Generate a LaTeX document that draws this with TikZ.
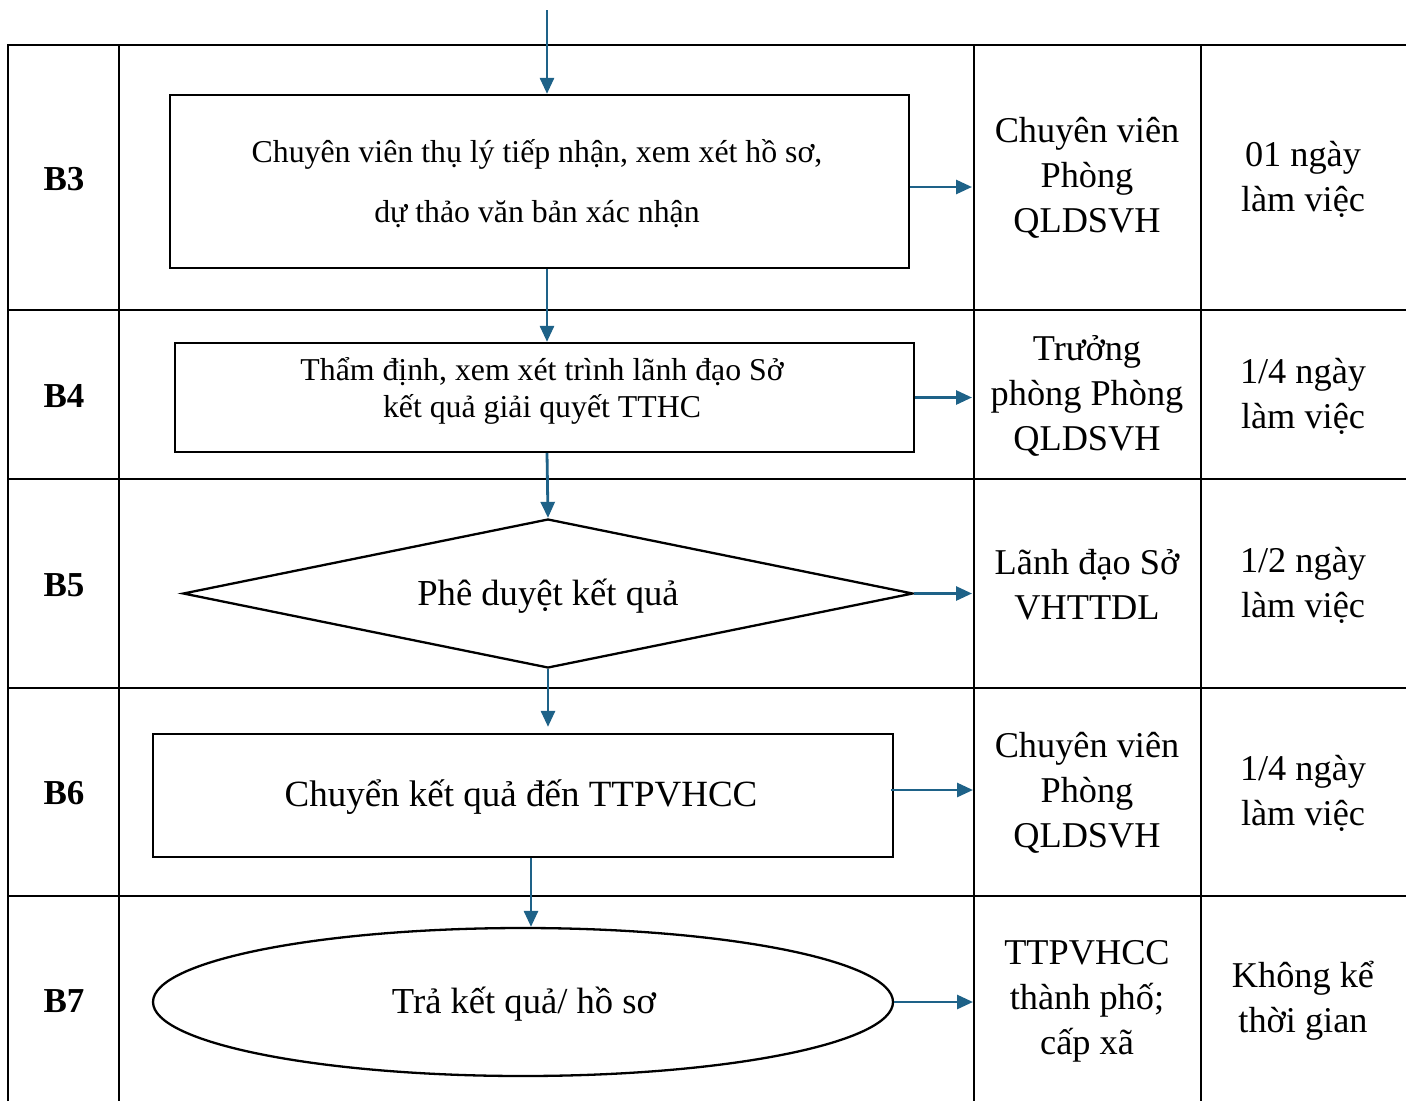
\documentclass[tikz,border=0pt]{standalone}
\usepackage{fontspec}
\setmainfont{Liberation Serif}
\usetikzlibrary{arrows.meta,shapes.geometric}
\definecolor{arr}{RGB}{30,98,136}
\begin{document}
\begin{tikzpicture}[x=1pt,y=-1pt,
  grid/.style={line width=2.8pt,black},
  shapebox/.style={draw,line width=2.3pt,inner sep=0pt},
  flow/.style={draw=arr,line width=2.8pt,-{Triangle[length=16pt,width=14pt]}},
  cell/.style={align=center,font=\fontsize{36.3}{45}\selectfont,inner sep=0pt},
  boxtext/.style={align=center,inner sep=0pt},
  steplabel/.style={inner sep=0pt,font=\fontsize{35}{40}\selectfont\bfseries}
]
\useasboundingbox (0,0) rectangle (1406,1101);
% table grid
\draw[grid] (8,1101) -- (8,45) -- (1406,45);
\foreach \yy in {310,479,688,896} \draw[grid] (8,\yy) -- (1406,\yy);
\foreach \xx in {119,974,1201} \draw[grid] (\xx,45) -- (\xx,1101);
% step labels
\node[steplabel] (s3) at (64,179) {B3};
\node[steplabel] (s4) at (64,396) {B4};
\node[steplabel] (s5) at (64,585) {B5};
\node[steplabel] (s6) at (64,793) {B6};
\node[steplabel] (s7) at (64,1001) {B7};
% shapes
\node[shapebox,minimum width=739pt,minimum height=173pt] (b3) at (539.5,181.5) {};
\node[boxtext,font=\fontsize{31.8}{60}\selectfont] (t3) at (537,184) {Chuyên viên thụ lý tiếp nhận, xem xét hồ sơ,\\dự thảo văn bản xác nhận};
\node[shapebox,minimum width=739pt,minimum height=109pt] (b4) at (544.5,397.5) {};
\node[boxtext,font=\fontsize{31.8}{37}\selectfont] (t4) at (542,391) {Thẩm định, xem xét trình lãnh đạo Sở\\kết quả giải quyết TTHC};
\node[shapebox,diamond,minimum width=730pt,minimum height=149pt] (b5) at (548,593.5) {};
\node[boxtext,font=\fontsize{36.6}{40}\selectfont] (t5) at (548,596) {Phê duyệt kết quả};
\node[shapebox,minimum width=740pt,minimum height=123pt] (b6) at (523,795.5) {};
\node[boxtext,font=\fontsize{37}{40}\selectfont] (t6) at (521,797) {Chuyển kết quả đến TTPVHCC};
\node[shapebox,ellipse,minimum width=740pt,minimum height=148pt] (b7) at (523,1002) {};
\node[boxtext,font=\fontsize{36.6}{40}\selectfont] (t7) at (524,1004) {Trả kết quả/ hồ sơ};
% column texts
\node[cell] (r3a) at (1087,178) {Chuyên viên\\Phòng\\QLDSVH};
\node[cell] (r3b) at (1303,179) {01 ngày\\làm việc};
\node[cell] (r4a) at (1087,396) {Trưởng\\phòng Phòng\\QLDSVH};
\node[cell] (r4b) at (1303,396) {1/4 ngày\\làm việc};
\node[cell] (r5a) at (1087,585) {Lãnh đạo Sở\\VHTTDL};
\node[cell] (r5b) at (1303,585) {1/2 ngày\\làm việc};
\node[cell] (r6a) at (1087,793) {Chuyên viên\\Phòng\\QLDSVH};
\node[cell] (r6b) at (1303,793) {1/4 ngày\\làm việc};
\node[cell] (r7a) at (1087,1001) {TTPVHCC\\thành phố;\\cấp xã};
\node[cell] (r7b) at (1303,1001) {Không kể\\thời gian};
% vertical flow
\coordinate (top) at (547,10);
\draw[flow] (top) -- (top |- b3.north);
\draw[flow] (b3.south -| top) -- (b4.north -| top);
\draw[flow] (b4.south -| top) -- (b5.north);
\draw[flow] (b5.south) -- ([yshift=6pt]b6.north -| b5.south);
\draw[flow] ([xshift=8pt]b6.south) -- ([xshift=8pt]b7.north);
% horizontal flow
\coordinate (c3) at (972,187);
\coordinate (c4) at (972,397.5);
\coordinate (c5) at (972,593.5);
\coordinate (c6) at (973,790);
\coordinate (c7) at (973,1002);
\draw[flow] (b3.east |- c3) -- (c3);
\draw[flow] (b4.east) -- (c4);
\draw[flow] (b5.east) -- (c5);
\draw[flow] ([xshift=-3pt]b6.east |- c6) -- (c6);
\draw[flow] (b7.east) -- (c7);
\end{tikzpicture}
\end{document}
